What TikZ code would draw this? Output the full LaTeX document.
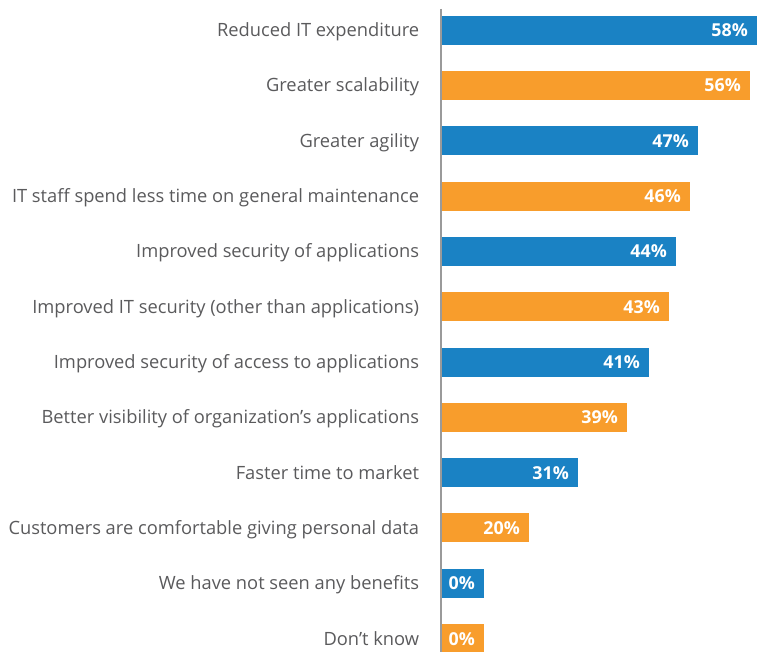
\documentclass[tikz,border=0pt]{standalone}
\usepackage{fontspec}
\setmainfont{Open Sans}
\definecolor{barblue}{HTML}{1A82C4}
\definecolor{barorange}{HTML}{F89D2C}
\definecolor{labelgray}{HTML}{5A5A5C}
\definecolor{axisgray}{HTML}{9A9A9A}
\begin{document}
\begin{tikzpicture}[x=1pt,y=-1pt,
  catlabel/.style={anchor=base east,inner sep=0pt,text=labelgray,font=\fontsize{18.3}{22}\selectfont},
  pctlabel/.style={anchor=base east,inner sep=0pt,text=white,font=\bfseries\fontsize{17.8}{22}\selectfont},
  bluebar/.style={fill=barblue,draw=none},
  orangebar/.style={fill=barorange,draw=none}]
\useasboundingbox (0,0) rectangle (757,652);
\def\bh{14.5}
\foreach \i/\txt/\w/\p/\c in {
  0/Reduced IT expenditure/316/58\%/bluebar,
  1/Greater scalability/309/56\%/orangebar,
  2/Greater agility/257/47\%/bluebar,
  3/IT staff spend less time on general maintenance/249/46\%/orangebar,
  4/Improved security of applications/235/44\%/bluebar,
  5/Improved IT security (other than applications)/228/43\%/orangebar,
  6/Improved security of access to applications/208/41\%/bluebar,
  7/Better visibility of organization’s applications/186/39\%/orangebar,
  8/Faster time to market/137/31\%/bluebar,
  9/Customers are comfortable giving personal data/88/20\%/orangebar,
  10/We have not seen any benefits/43/0\%/bluebar,
  11/Don’t know/43/0\%/orangebar}{
  \pgfmathsetmacro{\yc}{30.2+55.3*\i}
  \path[\c] (441,\yc-\bh) rectangle (441+\w,\yc+\bh);
  \pgfmathsetmacro{\xt}{min(441+\w-9,754)}
  \node[pctlabel] (p\i) at (\xt,\yc+6.5) {\p};
  \node[catlabel] (c\i) at (419.3,\yc+6.5) {\txt};
}
\draw[axisgray,line width=1.2pt] (441,9) -- (441,652);
\end{tikzpicture}
\end{document}
